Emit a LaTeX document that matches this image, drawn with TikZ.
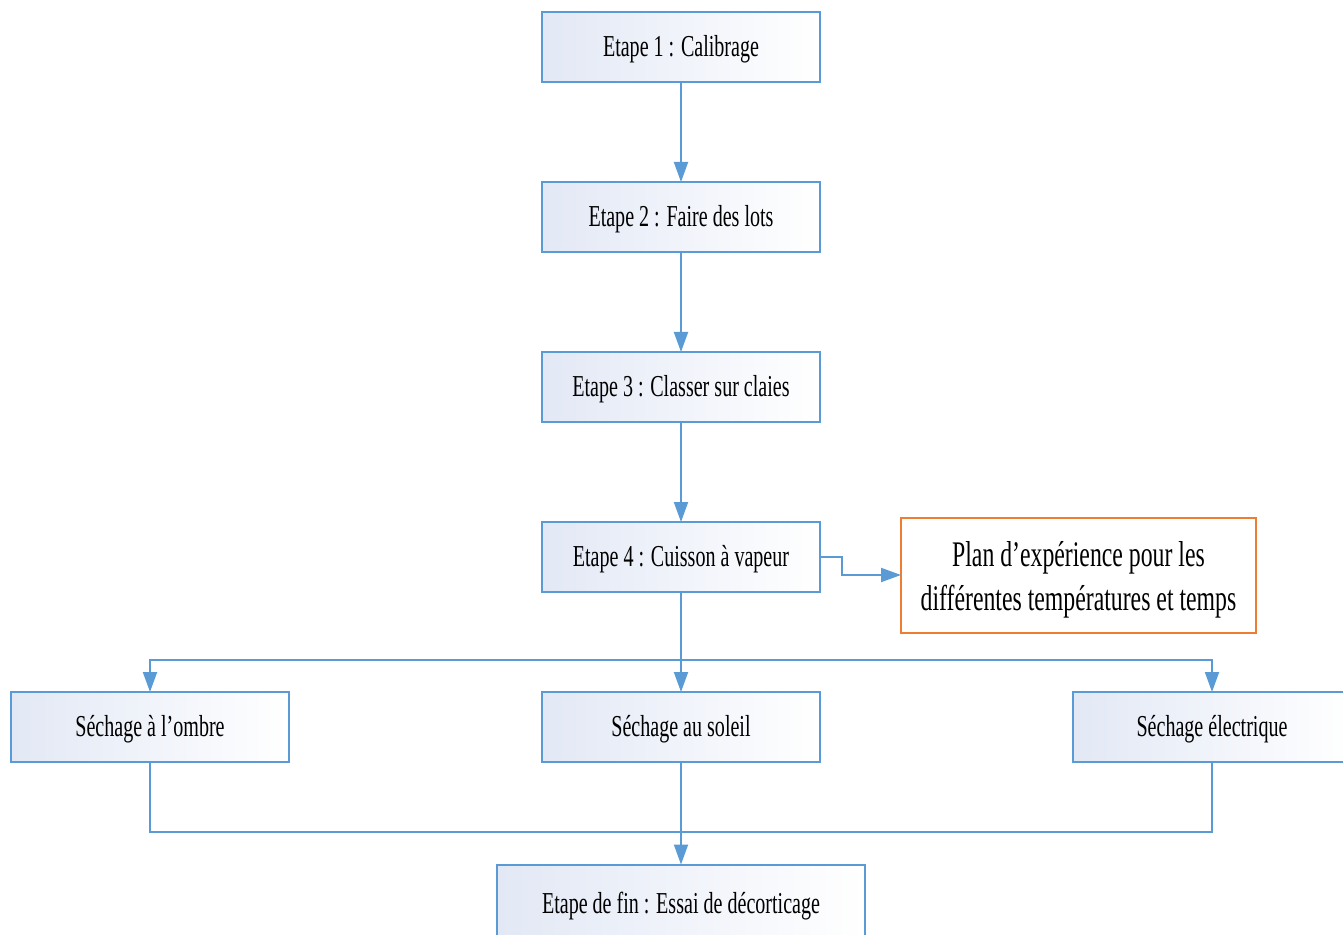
\documentclass[tikz,border=0pt]{standalone}
\usepackage{fontspec}
\setmainfont[FakeStretch=0.66]{Liberation Serif}
\usetikzlibrary{positioning, arrows.meta}

\definecolor{lineblue}{HTML}{5B9BD5}
\definecolor{boxfill}{HTML}{E2E8F5}
\definecolor{planorange}{HTML}{ED7D31}
\newcommand{\boxfont}{\fontsize{15.2}{18}\selectfont}
\newcommand{\planfont}{\fontsize{18}{22}\selectfont}

\begin{document}
\begin{tikzpicture}[
        node distance=50pt,
        etape/.style={rectangle, draw=lineblue, line width=1pt, left color=boxfill, right color=white,
            minimum width=139pt, minimum height=35pt, inner sep=2pt, outer sep=0pt,
            text height=13pt, font=\boxfont},
        plan/.style={rectangle, draw=planorange, line width=1pt, fill=white, align=center,
            minimum width=177.5pt, minimum height=57.5pt, outer sep=0pt,
            text height=39.5pt, text depth=4pt, font=\planfont},
        >={Triangle[length=10pt, width=7pt]}, line width=1pt
    ]

    \useasboundingbox (-340.5pt,23.5pt) rectangle (331pt,-444pt);

    %% ---- Main steps ----
    \node[etape] (e1) at (0,0) {Etape 1 : Calibrage};
    \node[etape, below=of e1] (e2) {Etape 2 : Faire des lots};
    \node[etape, below=of e2] (e3) {Etape 3 : Classer sur claies};
    \node[etape, below=of e3] (e4) {Etape 4 : Cuisson à vapeur};

    %% ---- Side box ----
    \node[plan, right=40.5pt of e4, yshift=-9pt] (plan) {Plan d’expérience pour les\\différentes températures et temps};

    %% ---- Drying boxes ----
    \node[etape, below=of e4] (s2) {Séchage au soleil};
    \node[etape, left=126.5pt of s2] (s1) {Séchage à l’ombre};
    \node[etape, right=126.5pt of s2] (s3) {Séchage électrique};

    %% ---- Last step ----
    \node[etape, below=51.25pt of s2, minimum width=184pt, minimum height=39pt] (fin) {Etape de fin : Essai de décorticage};

    \coordinate[above=16pt of s2] (split);
    \coordinate[above=16.5pt of fin] (join);

    %% ---- Connectors ----
    \draw[->, lineblue] (e1) -- (e2);
    \draw[->, lineblue] (e2) -- (e3);
    \draw[->, lineblue] (e3) -- (e4);
    \draw[->, lineblue] (e4.east) -- ++(11pt,0) |- (plan.west);

    \draw[->, lineblue] (e4) -- (s2);
    \draw[->, lineblue] (split) -| (s1);
    \draw[->, lineblue] (split) -| (s3);

    \draw[lineblue] (s1) |- (join);
    \draw[lineblue] (s3) |- (join);
    \draw[->, lineblue] (s2) -- (fin);

\end{tikzpicture}
\end{document}
